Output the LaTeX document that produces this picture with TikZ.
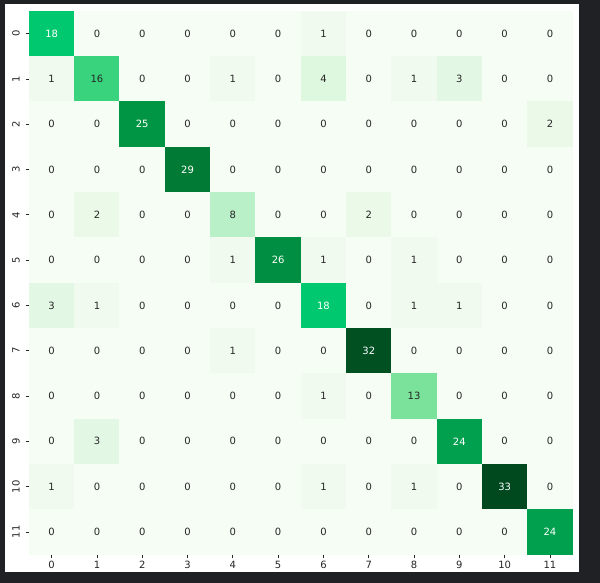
\documentclass[tikz,border=0pt]{standalone}
\usepackage{fontspec}
\setmainfont{DejaVu Sans}
% colours of the cells, one per value
\definecolor{bgdark}{HTML}{202124}
\definecolor{tdark}{HTML}{262626}
\definecolor{c0}{RGB}{245,253,244}
\definecolor{c1}{RGB}{240,250,238}
\definecolor{c2}{RGB}{234,249,232}
\definecolor{c3}{RGB}{226,248,228}
\definecolor{c4}{RGB}{222,248,224}
\definecolor{c8}{RGB}{185,240,200}
\definecolor{c13}{RGB}{122,226,154}
\definecolor{c16}{RGB}{58,211,125}
\definecolor{c18}{RGB}{0,200,110}
\definecolor{c24}{RGB}{0,160,79}
\definecolor{c25}{RGB}{0,149,69}
\definecolor{c26}{RGB}{0,143,66}
\definecolor{c29}{RGB}{0,122,52}
\definecolor{c32}{RGB}{0,80,34}
\definecolor{c33}{RGB}{0,73,30}
\colorlet{t0}{tdark}\colorlet{t1}{tdark}\colorlet{t2}{tdark}\colorlet{t3}{tdark}
\colorlet{t4}{tdark}\colorlet{t8}{tdark}\colorlet{t13}{tdark}\colorlet{t16}{tdark}
\colorlet{t18}{white}\colorlet{t24}{white}\colorlet{t25}{white}\colorlet{t26}{white}
\colorlet{t29}{white}\colorlet{t32}{white}\colorlet{t33}{white}
\begin{document}
\begin{tikzpicture}[x=1pt,y=-1pt,
    cell/.style={minimum width=45.3pt, minimum height=45.3pt, inner sep=0pt, line width=0.3pt, font=\fontsize{10}{12}\selectfont},
    ticklab/.style={inner sep=0pt, text=tdark, font=\fontsize{10}{12}\selectfont}]
    \fill[bgdark] (0,0) rectangle (600,583);
    \fill[white] (5,4) rectangle (579,572);
    % the matrix
    \foreach \row [count=\i from 0] in {
        {18,0,0,0,0,0,1,0,0,0,0,0},
        {1,16,0,0,1,0,4,0,1,3,0,0},
        {0,0,25,0,0,0,0,0,0,0,0,2},
        {0,0,0,29,0,0,0,0,0,0,0,0},
        {0,2,0,0,8,0,0,2,0,0,0,0},
        {0,0,0,0,1,26,1,0,1,0,0,0},
        {3,1,0,0,0,0,18,0,1,1,0,0},
        {0,0,0,0,1,0,0,32,0,0,0,0},
        {0,0,0,0,0,0,1,0,13,0,0,0},
        {0,3,0,0,0,0,0,0,0,24,0,0},
        {1,0,0,0,0,0,1,0,1,0,33,0},
        {0,0,0,0,0,0,0,0,0,0,0,24}} {
        \foreach \v [count=\j from 0] in \row {
            \node[cell, fill=c\v, draw=c\v, text=t\v] (c-\i-\j) at ({29+(\j+0.5)*45.3},{11+(\i+0.5)*45.3}) {\v};
        }
    }
    % ticks and their labels
    \foreach \k in {0,...,11} {
        \coordinate (xt-\k) at ({29+(\k+0.5)*45.3},554.7);
        \coordinate (yt-\k) at (29,{11+(\k+0.5)*45.3});
        \draw[tdark, line width=0.8pt] (xt-\k) -- ++(0,3.5);
        \draw[tdark, line width=0.8pt] (yt-\k) -- ++(-3.5,0);
        \node[ticklab] (xl-\k) at ({29+(\k+0.5)*45.3},565) {\k};
        \node[ticklab, rotate=90] (yl-\k) at (16,{11+(\k+0.5)*45.3}) {\k};
    }
\end{tikzpicture}
\end{document}
